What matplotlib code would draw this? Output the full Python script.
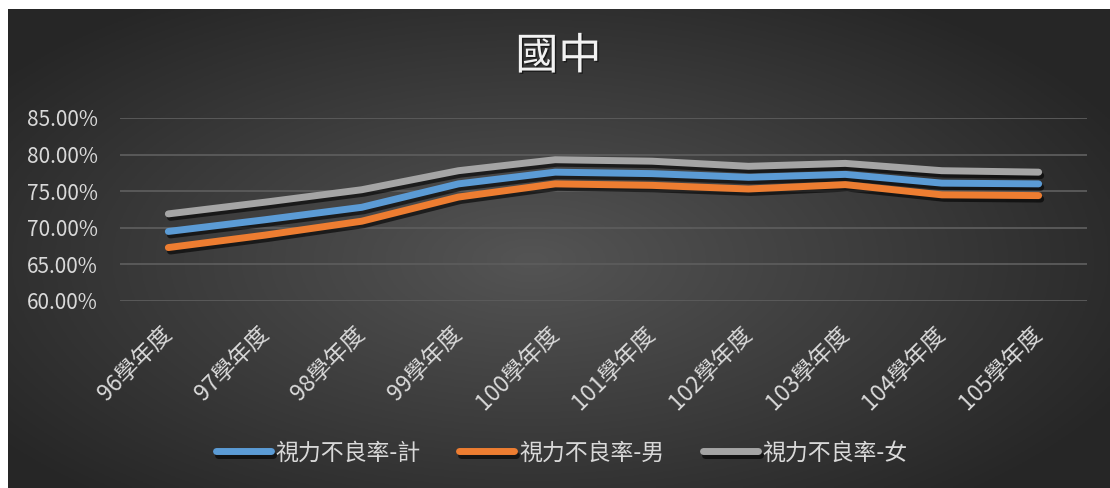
import numpy as np
import matplotlib
matplotlib.use("Agg")
import matplotlib.pyplot as plt
import matplotlib.patheffects as pe

plt.rcParams['font.family'] = ['Noto Sans CJK TC', 'DejaVu Sans']

# data
years = ['96學年度', '97學年度', '98學年度', '99學年度', '100學年度',
         '101學年度', '102學年度', '103學年度', '104學年度', '105學年度']
total = [69.5, 71.1, 72.8, 76.0, 77.6, 77.4, 76.9, 77.3, 76.1, 76.0]
male = [67.3, 69.0, 70.9, 74.2, 76.0, 75.8, 75.3, 75.9, 74.5, 74.4]
female = [71.9, 73.5, 75.2, 77.8, 79.3, 79.1, 78.4, 78.8, 77.8, 77.6]
series_names = ['視力不良率-計', '視力不良率-男', '視力不良率-女']
colors = ['#5B9BD5', '#ED7D31', '#A5A5A5']
yticks = [60, 65, 70, 75, 80, 85]

W, H = 1110, 488
fig = plt.figure(figsize=(W / 100, H / 100), dpi=100)
fig.patch.set_facecolor('white')

# dark radial gradient background
bg = fig.add_axes([8 / W, 0, 1 - 8 / W, (H - 9) / H])
bg.axis('off')
gx, gy = np.meshgrid(np.linspace(-1, 1, 400), np.linspace(-1, 1, 200))
r = np.sqrt(((gx + 0.05) / 1.0) ** 2 + ((gy - 0.05) / 1.1) ** 2)
r = np.clip(r / 1.2, 0, 1)
shade = 0.33 - 0.18 * r
bg.imshow(np.dstack([shade] * 3), aspect='auto', extent=[0, 1, 0, 1])
bg.set_xlim(0, 1)
bg.set_ylim(0, 1)

ax = fig.add_axes([120 / W, (H - 301) / H, (1087 - 120) / W, (301 - 118) / H])
ax.set_facecolor('none')
for s in ax.spines.values():
    s.set_visible(False)

x = np.arange(len(years))
shadow = [pe.SimpleLineShadow(offset=(1.5, -2.5), shadow_color='black', alpha=0.6),
          pe.Normal()]
for vals, name, c in zip([total, male, female], series_names, colors):
    ax.plot(x, vals, color=c, lw=5, solid_capstyle='round', solid_joinstyle='round',
            label=name, path_effects=shadow, zorder=3)

ax.set_xlim(-0.5, len(years) - 0.5)
ax.set_ylim(60, 85)
ax.set_yticks(yticks)
ax.set_yticklabels([f'{v:.2f}%' for v in yticks])
ax.grid(axis='y', color='#5c5c5c', lw=1.3)
ax.set_axisbelow(True)
ax.set_xticks(x)
ax.set_xticklabels(years, rotation=45, ha='right', va='center', rotation_mode='anchor')
ax.tick_params(axis='both', length=0, colors='#d9d9d9', labelsize=15)
ax.tick_params(axis='x', labelsize=16.5, pad=21)
ax.tick_params(axis='y', pad=16)

fig.text(0.503, (H - 57) / H, '國中', ha='center', va='center', fontsize=31, color='#f2f2f2',
         path_effects=[pe.withSimplePatchShadow(offset=(1, -1), shadow_rgbFace='black', alpha=0.5)])

leg = fig.legend(loc='center', bbox_to_anchor=(0.506, 35 / H), ncol=3, frameon=False,
                 fontsize=16.5, handlelength=2.4, handletextpad=0.2, columnspacing=1.7)
for t in leg.get_texts():
    t.set_color('#d9d9d9')
for h in leg.get_lines():
    h.set_linewidth(5)
    h.set_solid_capstyle('round')

fig.savefig('out.png', dpi=100)
